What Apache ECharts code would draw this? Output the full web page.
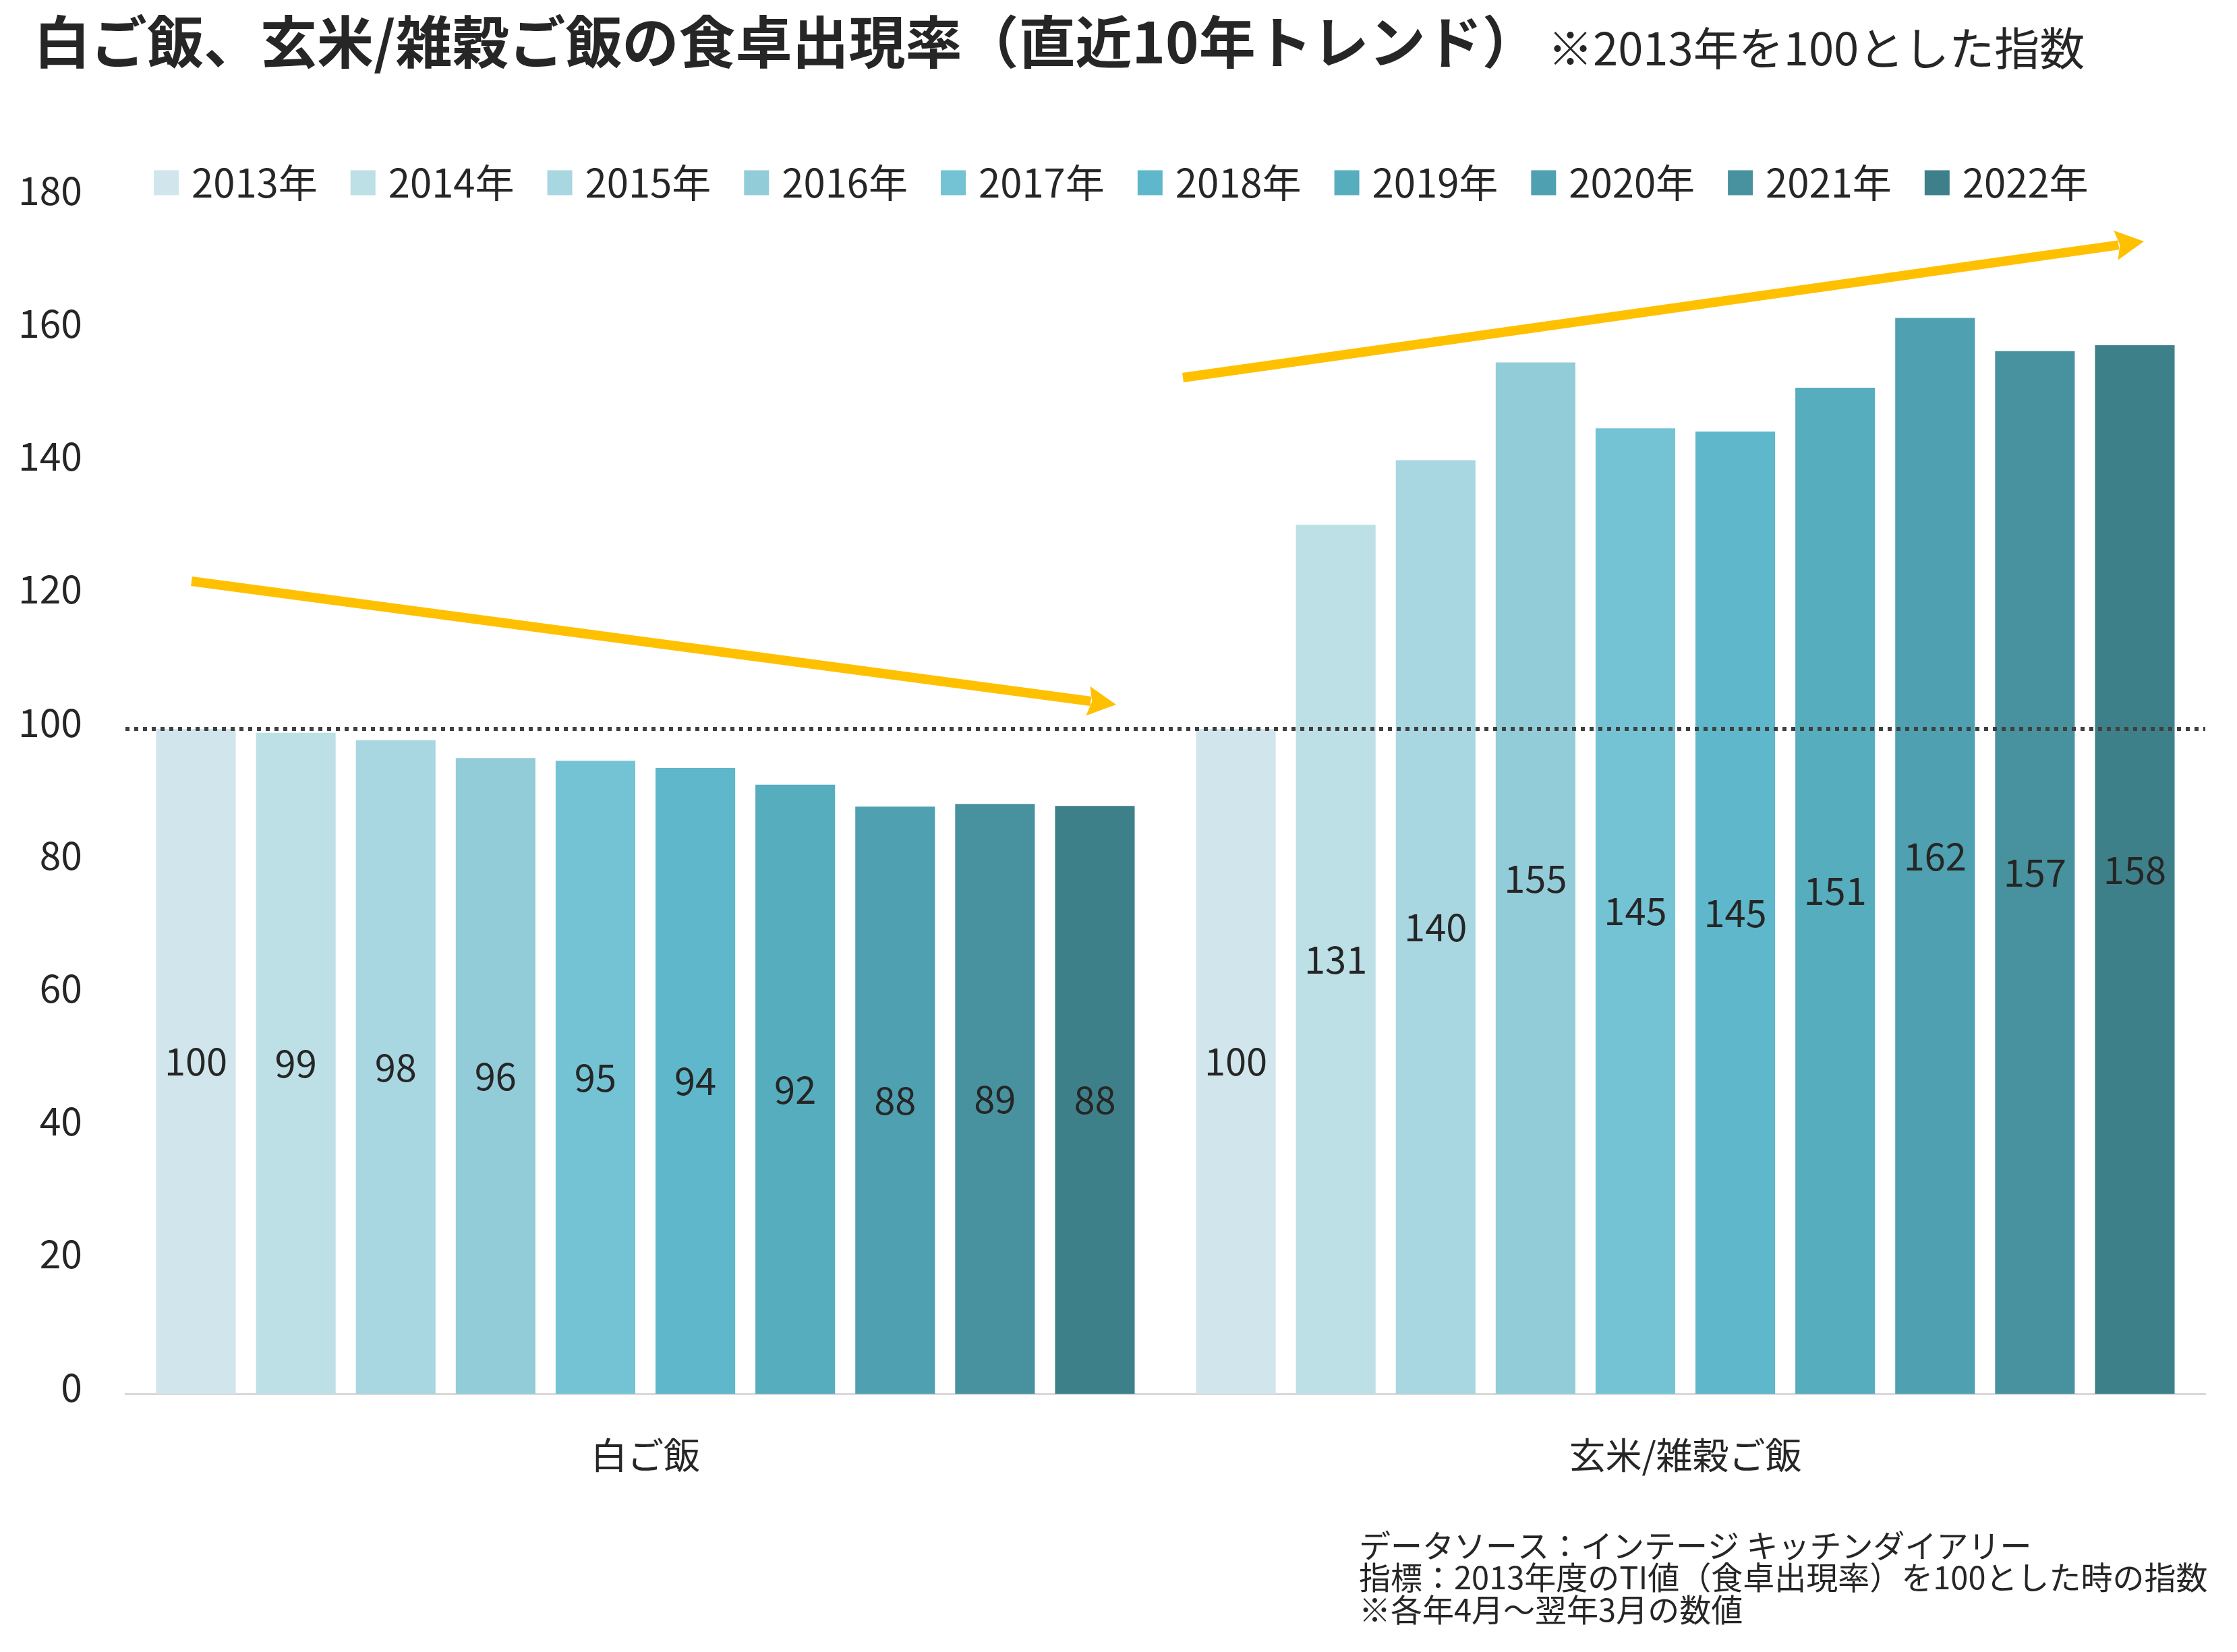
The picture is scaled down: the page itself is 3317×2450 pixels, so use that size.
<!DOCTYPE html>
<html>
<head>
<meta charset="utf-8">
<script src="https://cdn.jsdelivr.net/npm/echarts@6/dist/echarts.min.js"></script>
<style>
html,body{margin:0;padding:0;background:#fff;}
#chart{width:3317px;height:2450px;}
</style>
</head>
<body>
<div id="chart"></div>
<script>
// ---- data ----
const categories = ['白ご飯', '玄米/雑穀ご飯'];
const years = ['2013年','2014年','2015年','2016年','2017年','2018年','2019年','2020年','2021年','2022年'];
const whiteRice = [100, 99.4, 98.3, 95.6, 95.2, 94.1, 91.6, 88.3, 88.7, 88.4];
const brownRice = [100, 130.7, 140.4, 155.1, 145.2, 144.7, 151.3, 161.8, 156.8, 157.7];
const yearColors = ['#D1E6EC','#BDDFE6','#A8D6E1','#93CCD9','#74C3D4','#5EB7CA','#56ADBD','#4FA0B0','#47929E','#3E808A'];
const baseline = 100;
const titleText = '白ご飯、玄米/雑穀ご飯の食卓出現率（直近10年トレンド）';
const subtitleText = '※2013年を100とした指数';
const noteLines = ['データソース：インテージ キッチンダイアリー', '指標：2013年度のTI値（食卓出現率）を100とした時の指数', '※各年4月～翌年3月の数値'];

const FONT = '"Noto Sans CJK JP", "Noto Sans", sans-serif';
const TXT = '#262626';
const ARROW = '#FFC000';

function arrow(x1, y1, x2, y2) {
  const dx = x2 - x1, dy = y2 - y1, len = Math.hypot(dx, dy);
  const ux = dx / len, uy = dy / len, px = -uy, py = ux;
  const headLen = 42, headHalf = 22;
  const bx = x2 - ux * headLen, by = y2 - uy * headLen;
  return [
    { type: 'line', shape: { x1: x1, y1: y1, x2: bx + ux * 4, y2: by + uy * 4 }, style: { stroke: ARROW, lineWidth: 14 }, z: 100 },
    { type: 'polygon', shape: { points: [[x2, y2], [bx + px * headHalf, by + py * headHalf], [bx + ux * 6, by + uy * 6], [bx - px * headHalf, by - py * headHalf]] }, style: { fill: ARROW }, z: 100 }
  ];
}

const series = years.map((y, i) => ({
  name: y,
  type: 'bar',
  data: [whiteRice[i], brownRice[i]],
  itemStyle: { color: yearColors[i] },
  barGap: '25.4%',
  barCategoryGap: '5.9%',
  label: {
    show: true,
    position: 'inside',
    formatter: p => Math.round(p.value),
    fontFamily: FONT,
    fontSize: 56,
    color: TXT
  },
  markLine: i === 0 ? {
    silent: true,
    symbol: ['none', 'none'],
    label: { show: false },
    lineStyle: { color: '#404040', width: 6, type: [6, 7] },
    data: [{ yAxis: baseline }],
    z: 10
  } : undefined
}));

const chart = echarts.init(document.getElementById('chart'), null, { renderer: 'canvas' });
chart.setOption({
  backgroundColor: '#ffffff',
  animation: false,
  title: [
    { text: titleText, left: 50, top: 20, padding: 0,
      textStyle: { fontFamily: FONT, fontSize: 84, fontWeight: 'bold', color: TXT, lineHeight: 84 } },
    { text: subtitleText, left: 2295, top: 38, padding: 0,
      textStyle: { fontFamily: FONT, fontSize: 67, fontWeight: 'normal', color: TXT, lineHeight: 67 } }
  ],
  legend: {
    left: 228, top: 242, padding: 0,
    icon: 'rect', itemWidth: 37, itemHeight: 37, itemGap: 49,
    textStyle: { fontFamily: FONT, fontSize: 58, color: TXT, padding: [0, 0, 0, 14] },
    data: years
  },
  grid: { left: 186, right: 47, top: 292, bottom: 383, containLabel: false },
  xAxis: {
    type: 'category',
    data: categories,
    axisLine: { lineStyle: { color: '#D9D9D9', width: 3 } },
    axisTick: { show: false },
    axisLabel: { fontFamily: FONT, fontSize: 54, color: TXT, margin: 64 }
  },
  yAxis: {
    type: 'value', min: 0, max: 180, interval: 20,
    axisLine: { show: false }, axisTick: { show: false },
    splitLine: { show: false },
    axisLabel: { fontFamily: FONT, fontSize: 57, color: TXT, margin: 64, verticalAlign: 'bottom', lineHeight: 20 }
  },
  series: series,
  graphic: [].concat(
    arrow(284, 862, 1655, 1045),
    arrow(1754, 560, 3179, 358),
    [{ type: 'text', left: 2015, top: 2268,
       style: { text: noteLines.join('\n'), fontFamily: FONT, fontSize: 47, lineHeight: 47.5, fill: TXT } }]
  )
});
</script>
</body>
</html>
